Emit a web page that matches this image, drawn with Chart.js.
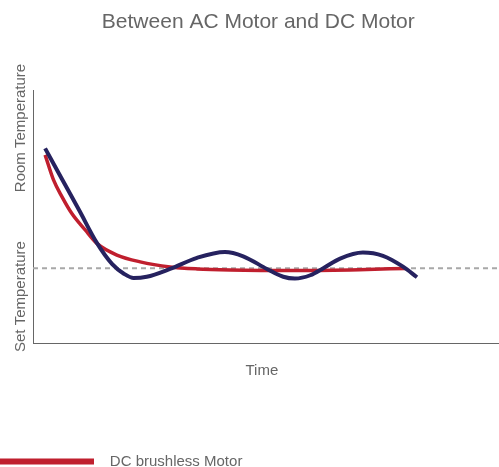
<!DOCTYPE html>
<html>
<head>
<meta charset="utf-8">
<script src="https://cdn.jsdelivr.net/npm/chart.js@4.4.1/dist/chart.umd.min.js"></script>
<style>
  html, body { margin: 0; padding: 0; overflow: hidden; background: #fff; }
  #wrap { width: 499px; height: 467px; overflow: hidden; }
  canvas { display: block; }
</style>
</head>
<body>
<div id="wrap"><canvas id="c" width="499" height="479"></canvas></div>
<script>
// ---- data ----
const chartTitle = 'Between AC Motor and DC Motor';
const xAxisLabel = 'Time';
const yAxisLabels = ['Set Temperature', 'Room Temperature'];
const seriesNames = ['DC brushless Motor', 'AC Motor'];

// DC brushless motor (red)
const dcTime = [2.6, 4.4, 6.2, 8.3, 11.2, 13.7, 18.0, 23.0, 29.4, 35.2, 42.3, 57.3, 70.0, 79.9];
const dcTemp = [74.4, 64.5, 57.9, 51.3, 44.7, 39.4, 34.8, 32.1, 30.1, 29.3, 28.9, 28.7, 29.0, 29.5];

// AC motor (navy)
const acTime = [2.6, 6.0, 10.0, 13.7, 17.0, 19.5, 21.6, 24.4, 29.4, 35.2, 41.2, 45.1, 50.2, 53.7, 56.2, 59.5, 62.3, 65.9, 70.8, 75.1, 79.4, 82.4];
const acTemp = [77.0, 65.6, 52.2, 39.6, 31.2, 27.4, 25.7, 26.2, 29.3, 33.7, 36.0, 34.3, 29.3, 26.2, 25.5, 26.8, 29.6, 33.4, 35.8, 34.5, 30.2, 26.0];

// set temperature reference level
const setTemperature = 29.6;
const timeRange = [0, 100];

const toPoints = (xs, ys) => xs.map((x, i) => ({x, y: ys[i]}));

const FONT = '"Liberation Sans", Arial, Helvetica, sans-serif';
Chart.defaults.font.family = FONT;
Chart.defaults.color = '#666';

const yLabelPlugin = {
  id: 'yLabels',
  afterDraw(chart) {
    const {ctx, chartArea} = chart;
    ctx.save();
    ctx.font = '15px ' + FONT;
    ctx.fillStyle = '#666';
    ctx.textAlign = 'left';
    ctx.textBaseline = 'alphabetic';
    const x = chartArea.left - 8;
    const spots = [[yAxisLabels[0], chartArea.bottom + 9], [yAxisLabels[1], chartArea.top + 102]];
    spots.forEach(([t, y]) => {
      ctx.save();
      ctx.translate(x, y);
      ctx.rotate(-Math.PI / 2);
      ctx.fillText(t, 0, 0);
      ctx.restore();
    });
    ctx.restore();
  }
};

new Chart(document.getElementById('c'), {
  type: 'line',
  data: {
    datasets: [
      {
        label: seriesNames[0],
        data: toPoints(dcTime, dcTemp),
        borderColor: '#c01f2e',
        backgroundColor: '#c01f2e',
        borderWidth: 3.5,
        pointRadius: 0,
        cubicInterpolationMode: 'monotone',
        order: 2
      },
      {
        label: seriesNames[1],
        data: toPoints(acTime, acTemp),
        borderColor: '#26225f',
        backgroundColor: '#26225f',
        borderWidth: 4,
        pointRadius: 0,
        cubicInterpolationMode: 'monotone',
        order: 1
      },
      {
        label: yAxisLabels[0],
        data: toPoints(timeRange, [setTemperature, setTemperature]),
        borderColor: '#a8a8a8',
        borderWidth: 2,
        borderDash: [5, 4],
        pointRadius: 0,
        order: 3
      }
    ]
  },
  options: {
    responsive: false,
    animation: false,
    layout: { padding: 0 },
    plugins: {
      tooltip: { enabled: false },
      title: {
        display: true,
        text: '   ' + chartTitle,
        color: '#666',
        font: { size: 21, weight: 'normal' },
        padding: { top: 10, bottom: 55 }
      },
      legend: {
        display: true,
        position: 'bottom',
        align: 'start',
        labels: {
          boxWidth: 94,
          boxHeight: 6,
          padding: 0,
          color: '#666',
          font: { size: 15 },
          generateLabels(chart) {
            return Chart.defaults.plugins.legend.labels.generateLabels(chart)
              .filter(l => l.datasetIndex === 0)
              .map(l => Object.assign(l, { lineWidth: 0, text: '  ' + l.text }));
          }
        }
      }
    },
    scales: {
      x: {
        type: 'linear',
        min: timeRange[0],
        max: timeRange[1],
        grid: { display: false, drawTicks: false },
        ticks: { display: false },
        border: { display: true, color: '#666', width: 1 },
        title: {
          display: true,
          text: xAxisLabel + '  ',
          color: '#666',
          font: { size: 15 },
          padding: { top: 18.5, bottom: 74.5 }
        }
      },
      y: {
        type: 'linear',
        min: 0,
        max: 100,
        grid: { display: false, drawTicks: false },
        ticks: { display: false },
        border: { display: true, color: '#666', width: 1 },
        afterFit(scale) { scale.width = 33; }
      }
    }
  },
  plugins: [yLabelPlugin]
});
</script>
</body>
</html>
